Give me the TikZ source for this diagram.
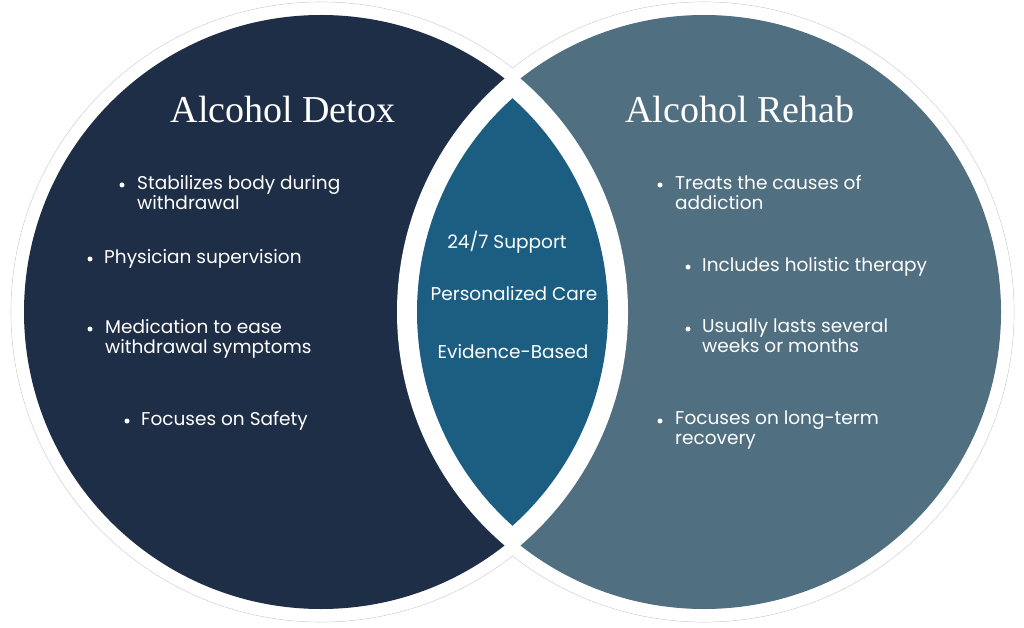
\documentclass[tikz,border=0pt]{standalone}
\usepackage{fontspec}
\setmainfont{Liberation Serif}
\newfontfamily\bodyf{Poppins}
\begin{document}
\begin{tikzpicture}[x=1pt,y=-1pt,
  head/.style={text=white,font=\fontsize{38}{44}\selectfont},
  item/.style={text=white,font=\bodyf\fontsize{18.5}{20}\selectfont,anchor=west,align=left,inner sep=0},
  mid/.style={text=white,font=\bodyf\fontsize{18.5}{22}\selectfont,inner sep=0},
  dot/.style={circle,fill=white,inner sep=0,minimum size=5pt}]
\useasboundingbox (0,0) rectangle (1024,628);
\def\R{297}
\coordinate (cl) at (321,312);
\coordinate (cr) at (704,312);
% outer ring
\draw[gray!40,line width=0.6pt] (cl) circle (\R+13);
\draw[gray!40,line width=0.6pt] (cr) circle (\R+13);
\fill[white] (cl) circle (\R+12.6);
\fill[white] (cr) circle (\R+12.6);
\fill[fill={rgb,255:red,31;green,46;blue,71}] (cl) circle (\R);
\fill[fill={rgb,255:red,80;green,111;blue,129}] (cr) circle (\R);
\begin{scope}
\clip (cl) circle (\R+10);
\fill[white] (cr) circle (\R+10);
\end{scope}
\begin{scope}
\clip (cl) circle (\R-10);
\fill[fill={rgb,255:red,27;green,94;blue,130}] (cr) circle (\R-10);
\end{scope}
\node[head] (h1) at (283,110) {Alcohol Detox};
\node[head] (h2) at (740,110) {Alcohol Rehab};
% left items
\node[dot] (d1) at (122,185) {};
\node[item,anchor=north west] (t1) at (137,175) {Stabilizes body during\\withdrawal};
\node[dot] (d2) at (90,259) {};
\node[item] (t2) at (104,259) {Physician supervision};
\node[dot] (d3) at (90,329) {};
\node[item,anchor=north west] (t3) at (105,319) {Medication to ease\\withdrawal symptoms};
\node[dot] (d4) at (127,421) {};
\node[item] (t4) at (141,421) {Focuses on Safety};
% right items
\node[dot] (d5) at (660,185) {};
\node[item,anchor=north west] (t5) at (675,175) {Treats the causes of\\addiction};
\node[dot] (d6) at (688,267) {};
\node[item] (t6) at (702,267) {Includes holistic therapy};
\node[dot] (d7) at (688,329) {};
\node[item,anchor=north west] (t7) at (702,319) {Usually lasts several\\weeks or months};
\node[dot] (d8) at (660,421) {};
\node[item,anchor=north west] (t8) at (675,411) {Focuses on long-term\\recovery};
% middle
\node[mid] (m1) at (507,242) {24/7 Support};
\node[mid] (m2) at (514,294) {Personalized Care};
\node[mid] (m3) at (513,352) {Evidence-Based};
\end{tikzpicture}
\end{document}
